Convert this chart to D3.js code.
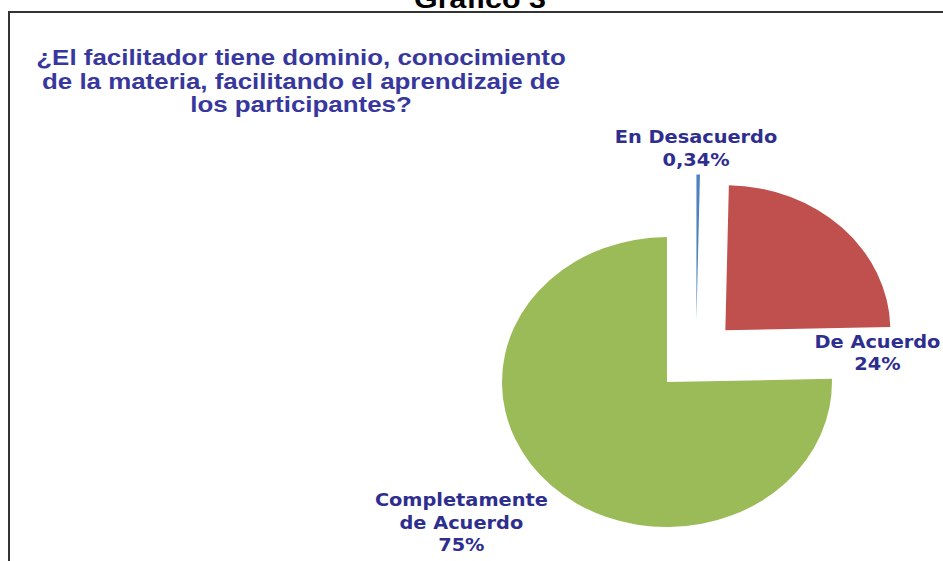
<!DOCTYPE html>
<html>
<head>
<meta charset="utf-8">
<script src="https://cdn.jsdelivr.net/npm/d3@7"></script>
<style>
  html, body { margin: 0; padding: 0; background: #fff; }
  svg { display: block; }
</style>
</head>
<body>
<svg id="chart"></svg>
<script>
// data
const categories = ["En Desacuerdo", "De Acuerdo", "Completamente de Acuerdo"];
const values = [0.34, 24.3, 75.36];
const percentLabels = ["0,34%", "24%", "75%"];
const nameLines = [["En Desacuerdo"], ["De Acuerdo"], ["Completamente", "de Acuerdo"]];
const titleLines = [
  "¿El facilitador tiene dominio, conocimiento",
  "de la materia, facilitando el aprendizaje de",
  "los participantes?"
];
const colors = ["#4F81BD", "#C0504D", "#9BBB59"];

let width = 943, height = 561;
// the original picture is stretched sideways, so everything gets sx
let sx = 1.138;
let cx = 696, cy = 356, r = 145, explode = 36.5;

// where the data labels sit (angle in degrees, distance as factor of r)
let labelAngle = [0, 88.9, 231];
let labelDist = [1.43, 1.10, 1.83];

let svg = d3.select("#chart")
    .attr("width", width)
    .attr("height", height);

// frame of the figure, it runs off the right and bottom
svg.append("rect")
    .attr("x", 9).attr("y", 12)
    .attr("width", 960).attr("height", 600)
    .attr("fill", "none")
    .attr("stroke", "#333")
    .attr("stroke-width", 2);

// "Gráfico 3" caption, cut off at the top
svg.append("text")
    .attr("transform", "translate(480,8) scale(1.17,1)")
    .attr("text-anchor", "middle")
    .style("font-family", "'Liberation Sans', Arial, sans-serif")
    .style("font-weight", "bold")
    .style("font-size", "26px")
    .attr("fill", "#000")
    .text("Gráfico 3");

// title
svg.selectAll(".title")
    .data(titleLines)
    .enter()
    .append("text")
    .attr("class", "title")
    .attr("transform", (d, i) => "translate(301," + (65 + i * 23.5) + ") scale(1.178,1)")
    .attr("text-anchor", "middle")
    .style("font-family", "'Liberation Sans', Arial, sans-serif")
    .style("font-weight", "bold")
    .style("font-size", "22px")
    .attr("fill", "#37379E")
    .text(d => d);

let pie = d3.pie().sort(null).value(d => d);
let arcs = pie(values);
let arc = d3.arc().innerRadius(0).outerRadius(r);

let slices = svg.append("g")
    .attr("transform", "translate(" + cx + "," + cy + ") scale(" + sx + ",1)");

slices.selectAll("path")
    .data(arcs)
    .enter()
    .append("path")
    .attr("d", arc)
    .attr("fill", (d, i) => colors[i])
    .attr("transform", d => {
        let mid = (d.startAngle + d.endAngle) / 2;
        let p = d3.pointRadial(mid, explode);
        return "translate(" + p + ")";
    });

// data labels
let lh = 22.5;
arcs.forEach((d, i) => {
    let p = d3.pointRadial(labelAngle[i] * Math.PI / 180, r * labelDist[i]);
    let x = cx + p[0] * sx;
    let y = cy + p[1];
    let lines = nameLines[i].concat([percentLabels[i]]);
    let first = y - (lines.length - 1) * lh / 2 + 6;
    svg.append("g")
        .selectAll("text")
        .data(lines)
        .enter()
        .append("text")
        .attr("transform", (t, j) => "translate(" + x + "," + (first + j * lh) + ") scale(" + sx + ",1)")
        .attr("text-anchor", "middle")
        .style("font-family", "'DejaVu Sans', Verdana, sans-serif")
        .style("font-weight", "bold")
        .style("font-size", "17px")
        .attr("fill", "#2E2E8F")
        .text(t => t);
});
</script>
</body>
</html>
